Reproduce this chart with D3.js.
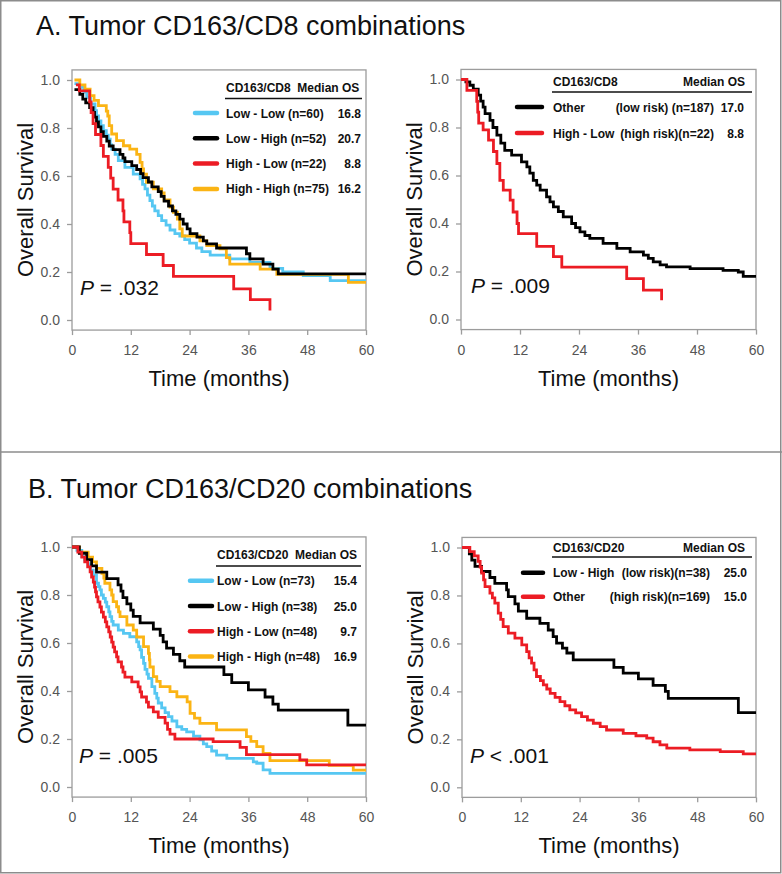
<!DOCTYPE html>
<html lang="en">
<head>
<meta charset="UTF-8">
<script src="https://d3js.org/d3.v7.min.js"></script>
<title>CD163 combinations</title>
<style>
  body { margin: 0; background: #fff; }
  svg { display: block; font-family: Arial, "Liberation Sans", sans-serif; }
</style>
</head>
<body>
<div id="km"></div>
<script>
// axis ticks
const monthTicks = [0, 12, 24, 36, 48, 60];
const survTicks = [0, 0.2, 0.4, 0.6, 0.8, 1.0];

// A. CD163/CD8, four groups  [months, survival]
const aLowLow = [[0.5,0.985],[1.5,0.97],[2.4,0.95],[3.0,0.928],[3.8,0.9],[4.7,0.872],[5.0,0.85],[5.4,0.83],[5.9,0.81],[6.4,0.789],[7.0,0.77],[7.4,0.754],[7.8,0.73],[8.1,0.712],[8.8,0.69],[9.45,0.664],[10.8,0.636],[12.5,0.608],[13.9,0.588],[14.4,0.565],[14.9,0.546],[15.4,0.52],[15.9,0.497],[16.4,0.475],[16.9,0.455],[17.6,0.435],[18.3,0.414],[19.2,0.395],[20.0,0.375],[21.0,0.36],[22.0,0.35],[23.0,0.335],[24.0,0.32],[25.4,0.3],[26.5,0.285],[28.2,0.27],[32.2,0.255],[36.3,0.24],[40.4,0.215],[43.0,0.2],[47.2,0.185],[52.7,0.164],[60,0.164]];
const aLowHigh = [[0.5,0.96],[1.6,0.94],[2.2,0.92],[2.8,0.905],[3.6,0.885],[4.3,0.865],[4.6,0.845],[5.0,0.825],[5.4,0.805],[5.9,0.785],[6.4,0.765],[7.1,0.745],[7.6,0.725],[8.4,0.71],[9.8,0.69],[10.4,0.675],[10.8,0.66],[12.2,0.643],[13.2,0.627],[14.0,0.61],[14.5,0.593],[15.6,0.575],[16.3,0.555],[17.6,0.535],[18.2,0.515],[18.8,0.495],[19.7,0.475],[20.5,0.455],[21.2,0.44],[22.0,0.42],[22.7,0.4],[23.5,0.38],[24.1,0.36],[25.5,0.345],[26.8,0.33],[27.5,0.317],[29.5,0.3],[35.6,0.276],[36.3,0.255],[39.0,0.233],[41.0,0.212],[42.1,0.192],[60,0.192]];
const aHighLow = [[0.8,0.98],[1.5,0.955],[3.6,0.909],[3.9,0.864],[4.3,0.818],[4.8,0.773],[5.9,0.727],[6.4,0.682],[7.4,0.636],[7.9,0.591],[8.4,0.545],[9.4,0.5],[10.4,0.455],[10.6,0.409],[11.8,0.364],[12.0,0.318],[15.2,0.273],[18.6,0.227],[20.7,0.182],[33.0,0.13],[36.4,0.085],[40.4,0.04]];
const aHighHigh = [[0.5,1.0],[1.6,0.98],[2.65,0.962],[3.7,0.935],[4.5,0.915],[5.4,0.893],[7.0,0.87],[7.3,0.85],[7.6,0.81],[8.1,0.775],[9.1,0.747],[10.5,0.726],[11.8,0.712],[13.2,0.69],[13.9,0.657],[14.3,0.63],[14.6,0.608],[15.2,0.574],[16.6,0.546],[18.3,0.53],[18.8,0.5],[20.0,0.47],[20.7,0.449],[21.5,0.42],[22.0,0.38],[22.5,0.35],[26.1,0.33],[27.5,0.31],[30.2,0.296],[31.5,0.26],[32.2,0.233],[38.4,0.212],[41.8,0.19],[56.4,0.157],[60,0.157]];
const aLeftGroups = ["Low - Low (n=60)", "Low - High (n=52)", "High - Low (n=22)", "High - High (n=75)"];
const aLeftMedians = ["16.8", "20.7", "8.8", "16.2"];

// A. CD163/CD8, risk groups
const aOther = [[0,1],[1.0,0.99],[1.8,0.976],[2.5,0.96],[3.5,0.935],[4.0,0.91],[4.5,0.885],[4.9,0.858],[5.9,0.83],[6.5,0.8],[7.3,0.768],[8.1,0.735],[8.9,0.705],[10.3,0.685],[12.3,0.657],[13.4,0.636],[14.0,0.61],[14.7,0.58],[15.4,0.56],[16.1,0.539],[17.4,0.511],[18.1,0.49],[18.8,0.469],[19.8,0.45],[20.8,0.428],[22.5,0.4],[23.3,0.383],[24.2,0.365],[25.2,0.35],[26.2,0.338],[28.9,0.317],[31.7,0.296],[34.4,0.282],[37.1,0.268],[38.1,0.255],[39.1,0.24],[40.5,0.228],[41.8,0.219],[46.6,0.212],[53.3,0.205],[56.4,0.198],[57.4,0.18],[60,0.18]];
const aHighRisk = [[0,1],[1.2,0.955],[3.2,0.909],[3.4,0.864],[3.6,0.818],[4.5,0.79],[5.6,0.747],[6.6,0.7],[7.3,0.65],[7.9,0.58],[8.6,0.539],[10.0,0.497],[10.6,0.448],[11.4,0.4],[11.7,0.358],[15.4,0.305],[18.8,0.262],[20.5,0.218],[33.7,0.17],[37.1,0.122],[40.8,0.08]];
const aRightGroups = ["Other", "High - Low"];
const aRightRisk = ["(low risk) (n=187)", "(high risk)(n=22)"];
const aRightMedians = ["17.0", "8.8"];

// B. CD163/CD20, four groups
const bLowLow = [[0,1],[1.0,0.986],[2.0,0.96],[2.6,0.945],[3.3,0.925],[3.8,0.904],[4.35,0.883],[5.0,0.849],[5.4,0.835],[5.7,0.821],[6.0,0.8],[6.4,0.786],[6.8,0.77],[7.1,0.751],[7.5,0.73],[7.75,0.71],[8.1,0.69],[8.4,0.675],[9.45,0.654],[10.5,0.64],[11.8,0.626],[13.2,0.605],[13.6,0.585],[13.9,0.571],[14.2,0.54],[14.6,0.515],[14.9,0.49],[15.3,0.47],[15.6,0.453],[16.3,0.418],[16.9,0.39],[17.3,0.37],[17.6,0.35],[18.3,0.33],[19.0,0.31],[19.7,0.293],[20.4,0.275],[21.4,0.251],[22.4,0.24],[23.4,0.23],[24.8,0.212],[26.1,0.196],[26.8,0.18],[27.5,0.168],[28.5,0.15],[29.5,0.133],[31.6,0.119],[37.0,0.105],[37.7,0.099],[39.0,0.071],[40.4,0.057],[60,0.057]];
const bLowHigh = [[0,1],[1.5,0.974],[3.0,0.947],[4.0,0.921],[5.0,0.895],[7.1,0.868],[9.4,0.842],[10.0,0.816],[10.4,0.789],[11.2,0.763],[12.0,0.737],[12.5,0.711],[13.9,0.684],[16.6,0.658],[18.0,0.632],[18.6,0.605],[19.3,0.579],[20.7,0.553],[22.0,0.526],[23.0,0.5],[31.0,0.468],[32.6,0.435],[36.0,0.405],[39.4,0.375],[41.0,0.345],[42.1,0.32],[56.3,0.258],[60,0.258]];
const bHighLow = [[0,1],[1.2,0.979],[2.0,0.958],[2.6,0.938],[3.2,0.917],[3.7,0.896],[4.0,0.875],[4.35,0.854],[4.6,0.833],[4.8,0.813],[5.0,0.792],[5.3,0.771],[5.7,0.75],[6.0,0.729],[6.4,0.708],[6.8,0.688],[7.1,0.667],[7.5,0.646],[7.8,0.625],[8.1,0.604],[8.4,0.583],[8.7,0.563],[9.1,0.542],[9.4,0.521],[10.1,0.5],[10.4,0.479],[10.8,0.458],[12.2,0.438],[13.5,0.417],[13.9,0.396],[14.2,0.375],[15.2,0.354],[15.6,0.333],[16.6,0.313],[17.6,0.29],[19.0,0.266],[19.5,0.24],[20.0,0.22],[21.0,0.2],[28.8,0.189],[34.3,0.165],[35.6,0.135],[46.5,0.113],[47.9,0.092],[60,0.092]];
const bHighHigh = [[0,1],[1.5,0.979],[3.3,0.958],[4.2,0.938],[5.0,0.911],[6.1,0.89],[6.5,0.87],[6.7,0.849],[7.75,0.821],[8.1,0.8],[8.4,0.772],[9.1,0.751],[9.5,0.73],[9.8,0.71],[11.2,0.675],[12.5,0.654],[13.2,0.625],[14.6,0.585],[15.6,0.557],[15.8,0.53],[15.9,0.5],[16.6,0.46],[17.3,0.44],[18.0,0.418],[20.0,0.397],[21.4,0.376],[23.5,0.355],[24.1,0.307],[25.0,0.287],[26.1,0.265],[29.5,0.238],[35.6,0.21],[36.5,0.19],[37.7,0.168],[39.0,0.14],[40.4,0.11],[52.5,0.09],[57.4,0.07],[60,0.07]];
const bLeftGroups = ["Low - Low (n=73)", "Low - High (n=38)", "High - Low (n=48)", "High - High (n=48)"];
const bLeftMedians = ["15.4", "25.0", "9.7", "16.9"];

// B. CD163/CD20, risk groups
const bLowRisk = [[0,1],[1.5,0.974],[2.0,0.947],[2.65,0.921],[4.0,0.9],[5.7,0.875],[6.7,0.85],[9.1,0.823],[9.45,0.795],[10.8,0.765],[11.5,0.735],[13.2,0.705],[15.9,0.684],[17.6,0.656],[18.6,0.628],[19.3,0.601],[20.5,0.58],[21.4,0.56],[22.7,0.531],[31.0,0.5],[32.9,0.476],[36.0,0.452],[39.0,0.425],[41.5,0.4],[42.1,0.371],[56.4,0.311],[60,0.311]];
const bOther = [[0,1],[1.6,0.983],[2.5,0.965],[3.3,0.942],[3.7,0.918],[4.0,0.893],[4.4,0.865],[4.7,0.837],[5.7,0.81],[6.2,0.79],[6.7,0.768],[7.4,0.726],[7.9,0.7],[8.4,0.67],[9.45,0.643],[10.8,0.622],[12.2,0.594],[13.2,0.566],[13.7,0.54],[14.2,0.518],[14.7,0.49],[15.2,0.462],[16.0,0.445],[16.6,0.427],[17.3,0.41],[18.0,0.392],[19.0,0.375],[20.0,0.357],[21.0,0.34],[22.0,0.323],[23.2,0.31],[24.4,0.295],[25.6,0.28],[26.8,0.267],[28.2,0.253],[29.5,0.239],[32.9,0.225],[35.5,0.215],[37.7,0.205],[39.0,0.19],[40.4,0.177],[41.8,0.163],[46.5,0.156],[52.7,0.149],[57.4,0.139],[60,0.139]];
const bRightGroups = ["Low - High", "Other"];
const bRightRisk = ["(low risk)(n=38)", "(high risk)(n=169)"];
const bRightMedians = ["25.0", "15.0"];

const pValues = ["= .032", "= .009", "= .005", "< .001"];
const panelTitles = ["A. Tumor CD163/CD8 combinations", "B. Tumor CD163/CD20 combinations"];

const CYAN = "#56c7f2", BLACK = "#000", RED = "#ec1c24", GOLD = "#fbb414";
const GRID = "#9c9c9c";

const svg = d3.select("#km").append("svg").attr("width", 782).attr("height", 874);

// outer frame and panel divider
svg.append("rect").attr("x", 0.75).attr("y", 0.75).attr("width", 780).attr("height", 872)
   .attr("fill", "none").attr("stroke", "#8c8c8c").attr("stroke-width", 1.5);
svg.append("line").attr("x1", 0).attr("x2", 782).attr("y1", 452).attr("y2", 452)
   .attr("stroke", "#8c8c8c").attr("stroke-width", 1.5);

svg.append("text").attr("x", 36).attr("y", 35).attr("font-size", 27).attr("fill", "#111").text(panelTitles[0]);
svg.append("text").attr("x", 28).attr("y", 498).attr("font-size", 27).attr("fill", "#111").text(panelTitles[1]);

const plots = [
  { left: 72, right: 366, one: 80, zero: 320, curves: [aLowLow, aHighHigh, aLowHigh, aHighLow], colors: [CYAN, GOLD, BLACK, RED],
    p: pValues[0], px: 80, py: 295,
    legend: { kind: "four", header: "CD163/CD8  Median OS", hx: 226, hy: 92, r0: 225, r1: 362, ry: 98.5,
              s0: 195, s1: 217, lx: 226, vx: 361, y0: 113, dy: 25.3,
              names: aLeftGroups, values: aLeftMedians, colors: [CYAN, BLACK, RED, GOLD] } },
  { left: 461, right: 756, one: 79.5, zero: 319.5, curves: [aOther, aHighRisk], colors: [BLACK, RED],
    p: pValues[1], px: 471, py: 293,
    legend: { kind: "two", header: "CD163/CD8", hx: 553, hy: 86, hx2: 745, r0: 552, r1: 752, ry: 92,
              s0: 517, s1: 542, lx: 553, dx: 714, vx: 744, y0: 107, dy: 26,
              names: aRightGroups, risks: aRightRisk, values: aRightMedians, colors: [BLACK, RED] } },
  { left: 72, right: 366, one: 547, zero: 787, curves: [bLowLow, bHighHigh, bLowHigh, bHighLow], colors: [CYAN, GOLD, BLACK, RED],
    p: pValues[2], px: 79, py: 763,
    legend: { kind: "four", header: "CD163/CD20  Median OS", hx: 217, hy: 559, r0: 216, r1: 361, ry: 566,
              s0: 190, s1: 212, lx: 217, vx: 357, y0: 580.7, dy: 25.3,
              names: bLeftGroups, values: bLeftMedians, colors: [CYAN, BLACK, RED, GOLD] } },
  { left: 462, right: 756, one: 547.5, zero: 787.3, curves: [bLowRisk, bOther], colors: [BLACK, RED],
    p: pValues[3], px: 470, py: 763,
    legend: { kind: "two", header: "CD163/CD20", hx: 553, hy: 552, hx2: 745, r0: 552, r1: 752, ry: 557,
              s0: 523, s1: 543, lx: 553, dx: 710, vx: 747, y0: 572.7, dy: 24,
              names: bRightGroups, risks: bRightRisk, values: bRightMedians, colors: [BLACK, RED] } }
];

plots.forEach(drawPlot);

function drawPlot(cfg) {
  const x = d3.scaleLinear().domain([0, 60]).range([cfg.left, cfg.right]);
  const y = d3.scaleLinear().domain([0, 1]).range([cfg.zero, cfg.one]);
  const g = svg.append("g");
  const boxTop = y(1.042), boxBot = y(-0.042);

  g.append("rect").attr("x", cfg.left).attr("y", boxTop)
   .attr("width", cfg.right - cfg.left).attr("height", boxBot - boxTop)
   .attr("fill", "none").attr("stroke", GRID).attr("stroke-width", 1.3);

  const yAxis = g.append("g").attr("transform", `translate(${cfg.left},0)`)
    .call(d3.axisLeft(y).tickValues(survTicks).tickFormat(d3.format(".1f")).tickSize(5).tickPadding(7));
  const xAxis = g.append("g").attr("transform", `translate(0,${boxBot})`)
    .call(d3.axisBottom(x).tickValues(monthTicks).tickSize(5).tickPadding(10));
  [yAxis, xAxis].forEach(a => {
    a.attr("font-family", null).attr("font-size", null);
    a.select(".domain").remove();
    a.selectAll("line").attr("stroke", GRID).attr("stroke-width", 1.3);
    a.selectAll("text").attr("font-size", 14).attr("fill", "#555");
  });

  // axis titles
  g.append("text").attr("transform", `translate(${cfg.left - 39},${(cfg.one + cfg.zero) / 2}) rotate(-90)`)
   .attr("text-anchor", "middle").attr("font-size", 22).attr("fill", "#111").text("Overall Survival");
  g.append("text").attr("x", (cfg.left + cfg.right) / 2).attr("y", cfg.zero + 66)
   .attr("text-anchor", "middle").attr("font-size", 22).attr("fill", "#111").text("Time (months)");

  // survival curves
  const line = d3.line().curve(d3.curveStepAfter).x(d => x(d[0])).y(d => y(d[1]));
  cfg.curves.forEach((c, i) => {
    g.append("path").datum(c).attr("d", line).attr("fill", "none")
     .attr("stroke", cfg.colors[i]).attr("stroke-width", 2.8)
     .attr("stroke-linejoin", "miter").attr("stroke-linecap", "butt");
  });

  // p value
  const pt = g.append("text").attr("x", cfg.px).attr("y", cfg.py).attr("font-size", 21).attr("fill", "#111");
  pt.append("tspan").attr("font-style", "italic").text("P");
  pt.append("tspan").text(" " + cfg.p);

  // legend
  const L = cfg.legend;
  const lg = g.append("g").attr("font-weight", "bold").attr("font-size", 12).attr("fill", "#111");
  lg.append("text").attr("x", L.hx).attr("y", L.hy).attr("xml:space", "preserve").text(L.header);
  if (L.kind === "two") {
    lg.append("text").attr("x", L.hx2).attr("y", L.hy).attr("text-anchor", "end").text("Median OS");
  }
  lg.append("line").attr("x1", L.r0).attr("x2", L.r1).attr("y1", L.ry).attr("y2", L.ry)
    .attr("stroke", "#111").attr("stroke-width", 1.4);
  L.names.forEach((name, i) => {
    const ry = L.y0 + i * L.dy;
    lg.append("line").attr("x1", L.s0).attr("x2", L.s1).attr("y1", ry).attr("y2", ry)
      .attr("stroke", L.colors[i]).attr("stroke-width", 4.5).attr("stroke-linecap", "round");
    lg.append("text").attr("x", L.lx).attr("y", ry + 4.5).text(name);
    if (L.kind === "two") {
      lg.append("text").attr("x", L.dx).attr("y", ry + 4.5).attr("text-anchor", "end").text(L.risks[i]);
    }
    lg.append("text").attr("x", L.vx).attr("y", ry + 4.5).attr("text-anchor", "end").text(L.values[i]);
  });
}
</script>
</body>
</html>
